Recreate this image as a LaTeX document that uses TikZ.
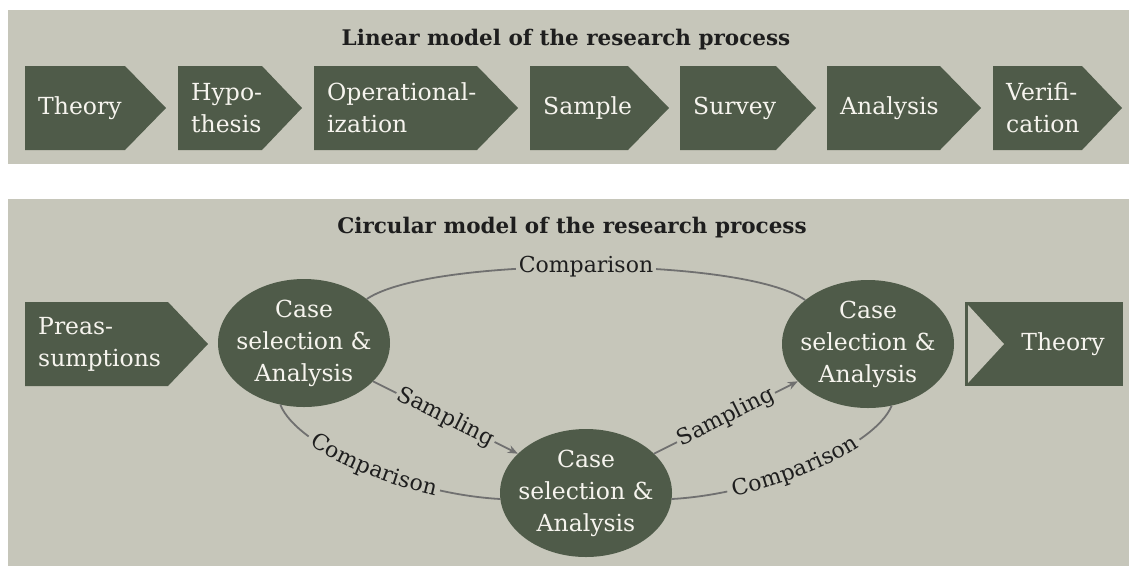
\documentclass[tikz,border=0pt]{standalone}
\usepackage{fontspec}
\setmainfont{DejaVu Serif}
\usetikzlibrary{shapes.geometric,arrows.meta,decorations.text}
\definecolor{panelbg}{HTML}{C6C6BA}
\definecolor{dkgreen}{HTML}{4F5B49}
\definecolor{boxtxt}{HTML}{F6F4EE}
\definecolor{linegray}{HTML}{707070}
\definecolor{labtxt}{HTML}{1E1E1E}
\newcommand\boxfont{\fontsize{23.5pt}{32pt}\selectfont}
\newcommand\labfont{\fontsize{22pt}{26pt}\selectfont}
\newcommand\titfont{\fontsize{21.5pt}{26pt}\selectfont\bfseries}
\newcommand\arrowbox[6]{\fill[dkgreen] (#1,#4) -- (#2,#4) -- (#3,#5) -- (#2,#6) -- (#1,#6) -- cycle;}
\begin{document}
\begin{tikzpicture}[x=1pt,y=-1pt,
  conn/.style={draw=linegray, line width=1.8pt},
  arr/.style={-{Stealth[length=10pt,width=8pt]}},
  boxlabel/.style={text=boxtxt, font=\boxfont, align=left, anchor=west, inner sep=0pt},
  ellbox/.style={ellipse, fill=dkgreen, minimum width=172pt, minimum height=128pt, inner sep=0pt},
  elllabel/.style={text=boxtxt, font=\boxfont, align=center, inner sep=0pt},
  lab/.style={text=labtxt, font=\labfont, fill=panelbg, inner sep=3pt},
  title/.style={text=labtxt, font=\titfont, inner sep=0pt, anchor=base}]
% canvas and panels
\fill[white] (0,0) rectangle (1132,566);
\useasboundingbox (0,0) rectangle (1132,566);
\fill[panelbg] (8,10) rectangle (1129,164);
\fill[panelbg] (8,199) rectangle (1129,566);

% ---------- linear model ----------
\node[title] (t1) at (566,45) {Linear model of the research process};
\arrowbox{25}{125}{166}{66}{108}{150}
\arrowbox{178}{262}{302}{66}{108}{150}
\arrowbox{314}{477}{518}{66}{108}{150}
\arrowbox{530}{628}{669}{66}{108}{150}
\arrowbox{680}{776}{816}{66}{108}{150}
\arrowbox{827}{940}{981}{66}{108}{150}
\arrowbox{993}{1082}{1122}{66}{108}{150}
\node[boxlabel] (l1) at (38,108) {Theory};
\node[boxlabel] (l2) at (191,108) {Hypo-\\thesis};
\node[boxlabel] (l3) at (327,108) {Operational-\\ization};
\node[boxlabel] (l4) at (543,108) {Sample};
\node[boxlabel] (l5) at (693,108) {Survey};
\node[boxlabel] (l6) at (840,108) {Analysis};
\node[boxlabel] (l7) at (1006,108) {Verifi-\\cation};

% ---------- circular model ----------
\node[title] (t2) at (572,233) {Circular model of the research process};
\arrowbox{25}{168}{208}{302}{344}{386}
\node[boxlabel] (pre) at (38,344) {Preas-\\sumptions};

\fill[dkgreen] (965,302) rectangle (1123,386);
\fill[panelbg] (968,305) -- (1004,344) -- (968,383) -- cycle;
\node[boxlabel, anchor=center] (theo) at (1063,344) {Theory};

\node[ellbox] (E1) at (304,343) {};
\node[ellbox] (E2) at (586,493) {};
\node[ellbox] (E3) at (868,344) {};
\node[elllabel] (E1t) at (E1.center) {Case\\selection \&\\Analysis};
\node[elllabel] (E2t) at (E2.center) {Case\\selection \&\\Analysis};
\node[elllabel] (E3t) at (E3.center) {Case\\selection \&\\Analysis};

% top comparison
\draw[conn] (E1.35) .. controls (430,256) and (742,256) .. node[lab] (c1) {Comparison} (E3.145);
% sampling arrows
\draw[conn, arr] (E1.-29) -- node[lab, sloped, inner sep=2pt] (s1) {Sampling} (E2.150);
\draw[conn, arr] (E2.30) -- node[lab, sloped, inner sep=2pt] (s2) {Sampling} (E3.208);
% lower comparisons (curved text)
\draw[conn, dash pattern=on 43pt off 143pt on 400pt off 1pt]
  (E1.-111) .. controls (298,448) and (410,494) .. (E2.184);
\path[decorate, decoration={text along path, text={|\labfont|Comparison},
  text color=labtxt, raise=-6pt, text align={left indent=48pt}}]
  (E1.-111) .. controls (298,448) and (410,494) .. (E2.184);
\draw[conn, dash pattern=on 56pt off 143pt on 400pt off 1pt]
  (E2.-4) .. controls (762,494) and (874,448) .. (E3.-69);
\path[decorate, decoration={text along path, text={|\labfont|Comparison},
  text color=labtxt, raise=-6pt, text align={left indent=61pt}}]
  (E2.-4) .. controls (762,494) and (874,448) .. (E3.-69);
\end{tikzpicture}
\end{document}
